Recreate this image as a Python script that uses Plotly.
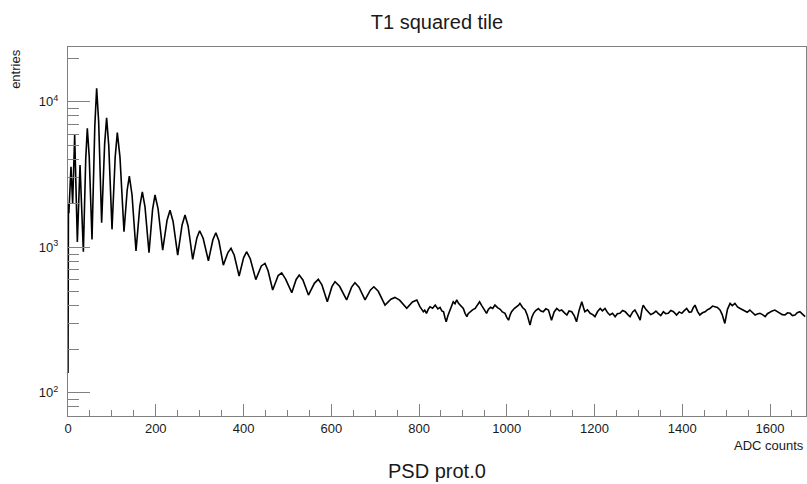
import plotly.graph_objects as go

# ADC counts (bin position) and entries
adc = [0, 1, 2, 6.8, 10.6, 15.2, 21.3, 27.4, 35, 40.4, 44, 48.3, 54.7, 61.1, 65.3, 69.9,
       76.7, 83.5, 88, 92.9, 100.3, 107.6, 112.4, 118.5, 127.6, 134.9, 139.8, 145.9, 155,
       163.6, 169.4, 175.5, 184.6, 192.8, 198.3, 205.3, 215.8, 225.8, 232.5, 239.5, 250,
       260, 266.7, 273.7, 284.2, 293.7, 300, 308, 320, 330.2, 337, 343.8, 354, 364.5,
       371.5, 378.9, 390, 400.2, 407, 415.4, 428, 440.6, 449, 456, 466.5, 479, 487, 496,
       510, 520, 527, 535.4, 548, 561.5, 570.5, 578.7, 591, 601.5, 608.5, 619, 635, 646.4,
       654, 663.2, 677, 689, 697, 707.2, 722.5, 736, 745, 755.8, 772, 785, 795,
       802, 806, 810, 813, 817, 821, 825, 831, 837, 843, 848, 852, 856, 859, 862, 866, 869,
       874, 878, 882, 886, 890, 893, 897, 901, 905, 909, 912, 916, 922, 928, 933, 938, 943,
       947, 950, 954, 958, 963, 968, 973, 979, 985, 990, 996, 1000, 1004, 1008, 1011, 1017,
       1023, 1027, 1030, 1036, 1042, 1047, 1053, 1057, 1061, 1066, 1072, 1077, 1083, 1089,
       1095, 1099, 1102, 1108, 1114, 1120, 1125, 1131, 1137, 1142, 1148, 1154, 1159, 1165,
       1171, 1175, 1178, 1184, 1190, 1196, 1201, 1207, 1213, 1218, 1224, 1230, 1235, 1241,
       1247, 1252, 1258, 1264, 1270, 1276, 1281, 1287, 1292, 1298, 1304, 1308, 1311, 1317,
       1323, 1328, 1334, 1340, 1345, 1351, 1357, 1362, 1368, 1374, 1380, 1384, 1387, 1393,
       1399, 1404, 1410, 1416, 1421, 1425, 1429, 1435, 1440, 1446, 1452, 1457, 1463, 1469,
       1475, 1480, 1486, 1491, 1497, 1503, 1509, 1514, 1520, 1526, 1532, 1537, 1543, 1548,
       1554, 1560, 1566, 1571, 1577, 1583, 1589, 1594, 1600, 1605, 1611, 1617, 1623, 1628,
       1634, 1640, 1646, 1651, 1657, 1662, 1668, 1674, 1680]
entries = [137, 2000, 1720, 3580, 2000, 5920, 1090, 3680, 933, 4040, 6580, 4240, 1135, 6810,
           12400, 7280, 1475, 5140, 7780, 5000, 1330, 4190, 6140, 4150, 1280, 2480, 3090,
           2300, 944, 1905, 2410, 1895, 918, 1823, 2290, 1840, 958, 1537, 1800, 1507, 885,
           1425, 1670, 1402, 828, 1161, 1300, 1155, 809, 1127, 1260, 1109, 755, 921,
           984, 883, 635, 848, 933, 836, 600, 745, 776, 690, 509, 640, 668, 605,
           488, 602, 645, 597, 470, 566, 603, 552, 423, 537, 581, 540, 435, 533,
           571, 533, 435, 508, 536, 499, 401, 440, 453, 434, 381, 421, 435,
           391, 372, 361, 370, 352, 375, 391, 382, 401, 378, 387, 366, 361, 330, 308, 340, 361,
           395, 423, 410, 435, 412, 401, 388, 380, 352, 334, 350, 361, 372, 380, 405, 423, 398,
           380, 366, 352, 374, 387, 380, 401, 385, 375, 360, 352, 330, 316, 345, 361, 380,
           391, 400, 412, 386, 371, 340, 292, 330, 352, 368, 380, 366, 361, 378,
           371, 340, 316, 360, 380, 366, 371, 356, 343, 365, 361, 338, 308, 370,
           423, 385, 361, 372, 352, 345, 334, 362, 380, 366, 380, 355, 343, 352,
           334, 350, 352, 368, 361, 345, 334, 360, 371, 345, 316, 372, 401, 375,
           361, 345, 352, 365, 352, 340, 361, 350, 352, 368, 361, 348, 343, 360,
           352, 366, 380, 358, 361, 385, 401, 362, 343, 355, 361, 372, 380, 395,
           391, 386, 371, 345, 300, 375, 412, 398, 412, 390, 380, 372, 361, 358,
           371, 355, 343, 348, 352, 345, 334, 350, 361, 366, 371, 360, 352, 345,
           343, 355, 352, 340, 343, 355, 361, 345, 334]

y_major = [100, 1000, 10000]
y_major_text = ["10<sup>2</sup>", "10<sup>3</sup>", "10<sup>4</sup>"]
y_minor = [m * d for d in (10, 100, 1000, 10000) for m in range(2, 10)]
x_major = list(range(0, 1601, 200))
x_minor = list(range(0, 1681, 50))

FONT = "Liberation Sans, Arial, sans-serif"
AXC = "#808080"
TXT = "#1a1a1a"

fig = go.Figure()
fig.add_trace(go.Scatter(x=adc, y=entries, mode="lines",
                         line=dict(color="black", width=1.6), showlegend=False,
                         hoverinfo="x+y"))

fig.update_layout(
    width=807, height=484,
    margin=dict(l=68, r=1, t=47, b=68),
    paper_bgcolor="white", plot_bgcolor="white",
    font=dict(family=FONT, color=TXT, size=13),
    title=dict(text="T1 squared tile", x=0.5415, xanchor="center", y=0.955,
               yanchor="middle", font=dict(size=20, color=TXT)),
    showlegend=False,
)
fig.update_xaxes(
    range=[0, 1682], showgrid=False, zeroline=False,
    showline=True, linecolor=AXC, linewidth=1, mirror=True,
    ticks="inside", ticklen=12, tickcolor=AXC, tickwidth=1,
    tickvals=x_major, ticktext=[str(v) for v in x_major],
    tickfont=dict(size=13, color=TXT),
    minor=dict(tickvals=x_minor, ticks="inside", ticklen=6, tickcolor=AXC, showgrid=False),
)
fig.update_yaxes(
    type="log", range=[1.841, 4.377], showgrid=False, zeroline=False,
    showline=True, linecolor=AXC, linewidth=1, mirror=True,
    ticks="inside", ticklen=22, tickcolor=AXC, tickwidth=1,
    tickvals=y_major, ticktext=y_major_text,
    tickfont=dict(size=13, color=TXT), ticklabelstandoff=6,
    minor=dict(tickvals=y_minor, ticks="inside", ticklen=11, tickcolor=AXC, showgrid=False),
)

fig.add_annotation(text="PSD prot.0", xref="paper", yref="paper", x=0.5, y=-0.148,
                   xanchor="center", yanchor="middle", showarrow=False,
                   font=dict(size=20, color=TXT))
fig.add_annotation(text="ADC counts", xref="paper", yref="paper", x=1.0, y=-0.08,
                   xanchor="right", yanchor="middle", showarrow=False,
                   font=dict(size=13, color=TXT))
fig.add_annotation(text="entries", xref="paper", yref="paper", x=-0.072, y=1.0,
                   xanchor="center", yanchor="top", showarrow=False, textangle=-90,
                   font=dict(size=13, color=TXT))

fig.write_html("out.html")
